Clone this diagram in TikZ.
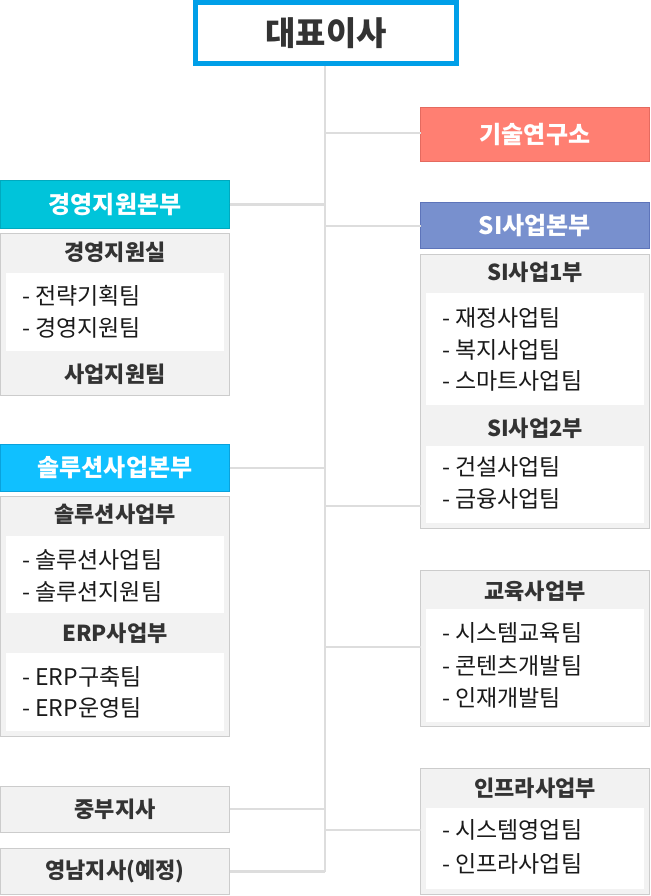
\documentclass[tikz,border=0pt]{standalone}
\usepackage{fontspec}
\setmainfont{Noto Sans CJK KR}
\definecolor{topblue}{HTML}{009FE8}
\definecolor{labred}{HTML}{FF7F72}
\definecolor{labredl}{HTML}{E46A5F}
\definecolor{hqcyan}{HTML}{00C4DA}
\definecolor{hqcyanl}{HTML}{00A9BE}
\definecolor{hqsi}{HTML}{7890CE}
\definecolor{hqsil}{HTML}{5D74BA}
\definecolor{hqsol}{HTML}{10C0FF}
\definecolor{hqsoll}{HTML}{0AA2DC}
\definecolor{gfill}{HTML}{F2F2F2}
\definecolor{gline}{HTML}{CCCCCC}
\definecolor{conncol}{HTML}{DDDDDD}
\definecolor{tdark}{HTML}{333333}
\definecolor{titem}{HTML}{1A1A1A}
\tikzset{
  conn/.style={draw=conncol, line width=2.5pt},
  bx/.style={inner sep=0pt, outer sep=0pt, line width=1pt},
  grp/.style={bx, fill=gfill, draw=gline, anchor=north west},
  wbox/.style={inner sep=0pt, outer sep=0pt, fill=white, draw=none, anchor=north west},
  head/.style={bx, text=white, font=\fontsize{24}{24}\selectfont\bfseries},
  gtitle/.style={text=tdark, font=\fontsize{22}{22}\selectfont\bfseries, inner sep=0pt},
  item/.style={text=titem, font=\fontsize{23}{23}\selectfont, anchor=west, inner sep=0pt},
}
\begin{document}
\begin{tikzpicture}[x=1pt, y=-1pt]
\useasboundingbox (0,0) rectangle (650,896);
% junction coordinates on the trunk
\coordinate (tktop) at (325,66);
\coordinate (tkbot) at (325,871.5);
\coordinate (jlab) at (325,133);
\coordinate (jsi) at (325,226);
\coordinate (jsig) at (325,506);
\coordinate (jedu) at (325,647);
\coordinate (jinf) at (325,830);

% boxes
\node[bx, draw=topblue, line width=5pt, fill=white, minimum width=261pt, minimum height=61pt,
      font=\fontsize{33}{33}\selectfont\bfseries, text=tdark] (top) at (326,33) {대표이사};
\node[head, fill=labred, draw=labredl, minimum width=229pt, minimum height=54pt] (lab) at (535,134.5) {기술연구소};
\node[head, fill=hqcyan, draw=hqcyanl, minimum width=229pt, minimum height=47pt] (hq1) at (115,204.5) {경영지원본부};
\node[head, fill=hqsi, draw=hqsil, minimum width=229pt, minimum height=46pt] (hq2) at (535,225.5) {SI사업본부};
\node[head, fill=hqsol, draw=hqsoll, minimum width=229pt, minimum height=47pt] (hq3) at (115,468) {솔루션사업본부};

% connectors
\draw[conn] (tktop) -- (tkbot);
\draw[conn] (jlab) -- (jlab -| lab.west);
\draw[conn] (hq1.east) -- (hq1.east -| tktop);
\draw[conn] (jsi) -- (jsi -| hq2.west);
\draw[conn] (hq3.east) -- (hq3.east -| tktop);

% group 1: 경영지원실
\node[grp, minimum width=229pt, minimum height=162pt] (g1) at (0.5,233.5) {};
\node[wbox, minimum width=218pt, minimum height=78pt] (g1w) at (6,273) {};
\node[gtitle] (g1t) at (115,252) {경영지원실};
\node[item] (g1a) at (22,296) {- 전략기획팀};
\node[item] (g1b) at (22,328) {- 경영지원팀};
\node[gtitle] (g1c) at (115,374) {사업지원팀};

% group 2: SI
\node[grp, minimum width=229pt, minimum height=274pt] (g2) at (420.5,254.5) {};
\node[wbox, minimum width=218pt, minimum height=112pt] (g2w1) at (426,293) {};
\node[wbox, minimum width=218pt, minimum height=77pt] (g2w2) at (426,446) {};
\node[gtitle] (g2t1) at (535,272) {SI사업1부};
\node[item] (g2a) at (442,318) {- 재정사업팀};
\node[item] (g2b) at (442,350) {- 복지사업팀};
\node[item] (g2c) at (442,381) {- 스마트사업팀};
\node[gtitle] (g2t2) at (535,428) {SI사업2부};
\node[item] (g2d) at (442,467) {- 건설사업팀};
\node[item] (g2e) at (442,499) {- 금융사업팀};
\draw[conn] (jsig) -- (jsig -| g2.west);

% group 3: 솔루션
\node[grp, minimum width=229pt, minimum height=240pt] (g3) at (0.5,496.5) {};
\node[wbox, minimum width=218pt, minimum height=77pt] (g3w1) at (6,536) {};
\node[wbox, minimum width=218pt, minimum height=78pt] (g3w2) at (6,653) {};
\node[gtitle] (g3t1) at (115,514) {솔루션사업부};
\node[item] (g3a) at (22,560) {- 솔루션사업팀};
\node[item] (g3b) at (22,592) {- 솔루션지원팀};
\node[gtitle] (g3t2) at (115,633) {ERP사업부};
\node[item] (g3c) at (22,677) {- ERP구축팀};
\node[item] (g3d) at (22,708) {- ERP운영팀};

% group 4: 교육
\node[grp, minimum width=229pt, minimum height=156pt] (g4) at (420.5,570.5) {};
\node[wbox, minimum width=218pt, minimum height=113pt] (g4w) at (426,609) {};
\node[gtitle] (g4t) at (535,591) {교육사업부};
\node[item] (g4a) at (442,633) {- 시스템교육팀};
\node[item] (g4b) at (442,666) {- 콘텐츠개발팀};
\node[item] (g4c) at (442,698) {- 인재개발팀};
\draw[conn] (jedu) -- (jedu -| g4.west);

% group 5: 인프라
\node[grp, minimum width=229pt, minimum height=126pt] (g5) at (420.5,768.5) {};
\node[wbox, minimum width=218pt, minimum height=81pt] (g5w) at (426,808) {};
\node[gtitle] (g5t) at (535,788) {인프라사업부};
\node[item] (g5a) at (442,830) {- 시스템영업팀};
\node[item] (g5b) at (442,864) {- 인프라사업팀};
\draw[conn] (jinf) -- (jinf -| g5.west);

% branches
\node[bx, fill=gfill, draw=gline, minimum width=229pt, minimum height=46pt,
      text=tdark, font=\fontsize{22}{22}\selectfont\bfseries] (jb) at (115,809) {중부지사};
\node[bx, fill=gfill, draw=gline, minimum width=229pt, minimum height=46pt,
      text=tdark, font=\fontsize{22}{22}\selectfont\bfseries] (yn) at (115,871.5) {영남지사(예정)};
\draw[conn] (jb.east) -- (jb.east -| tktop);
\draw[conn] (tkbot) -- (yn.east);
\end{tikzpicture}
\end{document}
